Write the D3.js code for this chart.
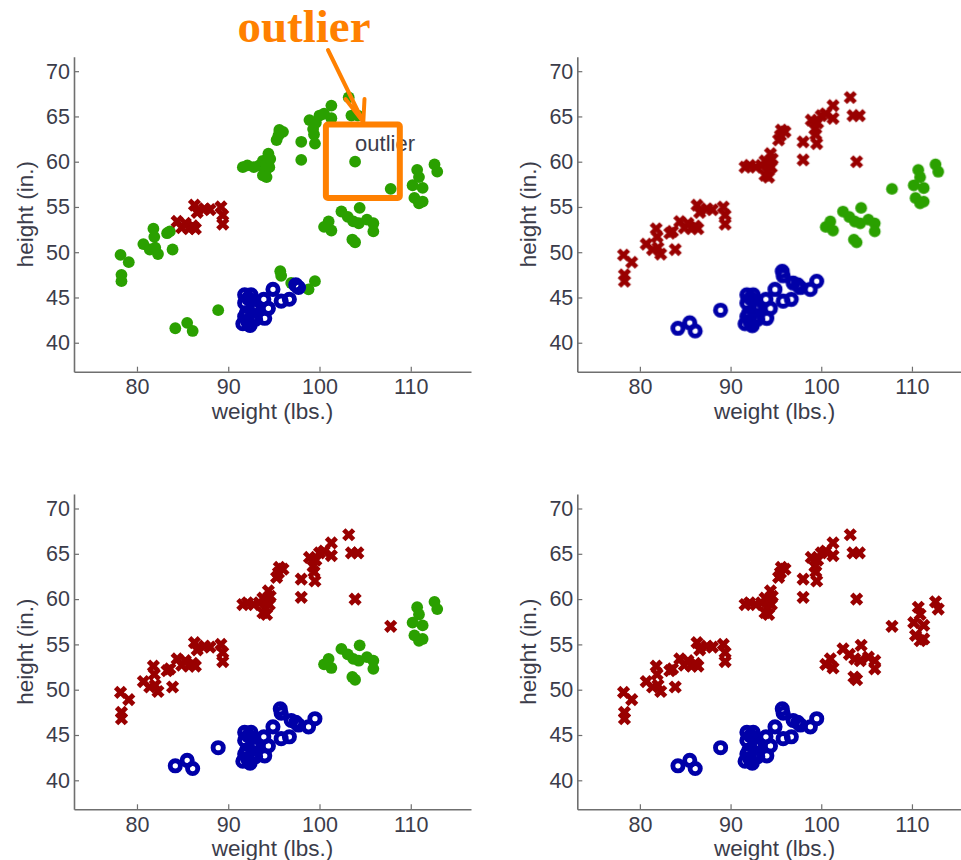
<!DOCTYPE html>
<html>
<head>
<meta charset="utf-8">
<script src="https://cdn.jsdelivr.net/npm/d3@7"></script>
<style>
  body { margin: 0; background: #fff; }
  svg { display: block; }
</style>
</head>
<body>
<svg id="chart" width="961" height="860"></svg>
<script>
// Children's weight / height measurements (lbs., in.)
const weight = [
  // lower-left band
  78.2, 79.1, 78.3, 78.3, 80.7, 81.4, 81.8, 81.9, 82.3, 82.0, 83.3, 83.9, 83.6,
  84.4, 84.9, 85.3, 85.7, 86.1, 86.3, 86.6, 86.4, 87.4, 88.0, 89.2, 89.4, 89.4,
  // middle band
  91.6, 92.1, 92.8, 93.4, 93.8, 93.8, 94.1, 94.2, 94.4, 94.5, 94.6, 94.2, 95.3,
  95.5, 95.6, 96.0, 98.0, 98.0, 98.9, 99.3, 99.6, 99.4, 99.5, 100.0, 100.5, 101.3,
  101.3, 103.2, 103.5, 104.2, 103.9,
  // right, lower group
  100.5, 101.0, 101.3, 102.4, 103.1, 103.7, 104.4, 104.3, 105.2, 105.9, 105.9, 103.6, 103.9,
  // far right group
  107.8, 110.2, 110.7, 110.9, 111.3, 110.4, 110.9, 111.3, 112.6, 112.9,
  // lowest group
  84.2, 85.5, 86.1, 88.9, 91.6, 92.1, 91.8, 92.4, 92.0, 91.8, 91.8, 92.5, 92.2,
  92.9, 92.7, 93.0, 93.9, 94.4, 94.0, 94.9, 95.7, 95.8, 96.7, 96.9, 97.4, 97.7,
  98.8, 99.5, 92.3, 92.6, 93.2, 95.8
];
const height = [
  49.7, 48.9, 47.5, 46.8, 50.9, 50.3, 52.6, 51.7, 49.8, 50.5, 52.1, 50.3, 52.3,
  53.4, 52.7, 53.2, 52.6, 52.9, 55.2, 54.4, 52.6, 54.8, 54.7, 55.0, 54.1, 53.1,
  59.4, 59.6, 59.4, 59.6, 60.1, 58.5, 59.0, 59.7, 60.9, 59.4, 60.3, 58.3, 62.4,
  62.9, 63.5, 63.3, 62.2, 60.2, 64.6, 63.6, 64.3, 63.0, 62.0, 65.1, 65.3, 66.2,
  64.8, 67.1, 65.1, 65.1, 60.0,
  52.8, 53.4, 52.4, 54.5, 53.9, 53.4, 54.9, 53.2, 53.6, 53.2, 52.3, 51.4, 51.1,
  57.0, 57.4, 59.1, 58.3, 57.1, 56.0, 55.4, 55.6, 59.7, 58.9,
  41.6, 42.2, 41.3, 43.6, 42.1, 42.4, 42.9, 41.9, 43.3, 44.4, 45.3, 45.3, 44.9,
  44.1, 43.8, 42.6, 44.8, 43.8, 42.7, 45.9, 47.9, 44.6, 44.8, 46.6, 46.4, 46.1,
  45.9, 46.8, 42.0, 42.5, 43.9, 47.4
];
// Cluster of each point after each of the four k-means steps
// (g = green dot, r = red cross, b = blue ring)
const step1 = "gggggggggggggrrrrrrrrrrrrr" + "ggggggggggggggggggggggggggggggg" + "ggggggggggggg" + "gggggggggg" + "ggggbbbbbbbbbbbbbbbbgbbgbbgg" + "bbbg";
const step2 = "rrrrrrrrrrrrrrrrrrrrrrrrrr" + "rrrrrrrrrrrrrrrrrrrrrrrrrrrrrrr" + "ggggggggggggg" + "gggggggggg" + "bbbbbbbbbbbbbbbbbbbbbbbbbbbb" + "bbbb";
const step3 = "rrrrrrrrrrrrrrrrrrrrrrrrrr" + "rrrrrrrrrrrrrrrrrrrrrrrrrrrrrrr" + "ggggggggggggg" + "rggggggggg" + "bbbbbbbbbbbbbbbbbbbbbbbbbbbb" + "bbbb";
const step4 = "rrrrrrrrrrrrrrrrrrrrrrrrrr" + "rrrrrrrrrrrrrrrrrrrrrrrrrrrrrrr" + "rrrrrrrrrrrrr" + "rrrrrrrrrr" + "bbbbbbbbbbbbbbbbbbbbbbbbbbbb" + "bbbb";
const steps = [step1, step2, step3, step4];

const xTicks = [80, 90, 100, 110];
const yTicks = [40, 45, 50, 55, 60, 65, 70];
const xDomain = [73.1, 116.6];
const yDomain = [36.8, 71.6];
const xTitle = "weight (lbs.)";
const yTitle = "height (in.)";
const outlierIndex = 56;           // the isolated point at (103.9, 60)
const noteTitle = "outlier";
const boxWeight = [100.7, 108.8];  // highlight box around the outlier
const boxHeight = [56.0, 64.1];

const colors = { g: "#2ba000", r: "#990000", b: "#0000a8" };
const orange = "#ff8000";
const inkColor = "#3b3c4a";
const axisColor = "#6f6f6f";

const panels = [
  { left: 74,    top: 56.7, width: 397,   height: 315 },
  { left: 577.3, top: 56.7, width: 394.5, height: 315 },
  { left: 74,    top: 494,  width: 397,   height: 315.3 },
  { left: 577.3, top: 494,  width: 394.5, height: 315.3 }
];

const svg = d3.select("#chart");
svg.append("rect").attr("width", 961).attr("height", 860).attr("fill", "#fff");

const defs = svg.append("defs");
defs.append("filter").attr("id", "soft")
  .attr("x", "-20%").attr("y", "-20%").attr("width", "140%").attr("height", "140%")
  .append("feGaussianBlur").attr("stdDeviation", 0.6);

const points = weight.map((w, i) => ({ w, h: height[i], i }));
const drawOrder = ["g", "r", "b"];

panels.forEach((p, k) => {
  const x = d3.scaleLinear().domain(xDomain).range([0, p.width]);
  const y = d3.scaleLinear().domain(yDomain).range([p.height, 0]);
  const g = svg.append("g").attr("transform", `translate(${p.left},${p.top})`);

  // axes
  const xAxis = g.append("g").attr("transform", `translate(0,${p.height})`)
    .call(d3.axisBottom(x).tickValues(xTicks).tickFormat(d3.format("d"))
      .tickSizeInner(-5).tickSizeOuter(0).tickPadding(7));
  const yAxis = g.append("g")
    .call(d3.axisLeft(y).tickValues(yTicks).tickFormat(d3.format("d"))
      .tickSizeInner(-5).tickSizeOuter(0).tickPadding(4));
  [xAxis, yAxis].forEach(a => {
    a.select(".domain").attr("stroke", axisColor).attr("stroke-width", 1.6);
    a.selectAll(".tick line").attr("stroke", axisColor).attr("stroke-width", 1.2);
    a.selectAll(".tick text")
      .attr("fill", inkColor)
      .style("font-family", "'Liberation Sans', Arial, sans-serif")
      .style("font-size", "21.5px");
  });

  g.append("text")
    .attr("x", p.width / 2).attr("y", p.height + 47)
    .attr("text-anchor", "middle")
    .attr("fill", inkColor)
    .style("font-family", "'Liberation Sans', Arial, sans-serif")
    .style("font-size", "22.5px")
    .text(xTitle);
  g.append("text")
    .attr("transform", `translate(-41,${p.height / 2}) rotate(-90)`)
    .attr("text-anchor", "middle")
    .attr("fill", inkColor)
    .style("font-family", "'Liberation Sans', Arial, sans-serif")
    .style("font-size", "22.5px")
    .text(yTitle);

  // markers
  const marks = g.append("g").attr("filter", "url(#soft)");
  const step = steps[k];
  drawOrder.forEach(c => {
    const pts = points.filter(d => step[d.i] === c);
    if (c === "g") {
      marks.selectAll(null).data(pts).enter().append("circle")
        .attr("cx", d => x(d.w)).attr("cy", d => y(d.h)).attr("r", 5.9)
        .attr("fill", colors.g);
    } else if (c === "r") {
      marks.selectAll(null).data(pts).enter().append("path")
        .attr("transform", d => `translate(${x(d.w)},${y(d.h)})`)
        .attr("d", "M-4.9,-4.9L4.9,4.9M-4.9,4.9L4.9,-4.9")
        .attr("stroke", colors.r).attr("stroke-width", 4.8).attr("fill", "none");
    } else {
      marks.selectAll(null).data(pts).enter().append("circle")
        .attr("cx", d => x(d.w)).attr("cy", d => y(d.h)).attr("r", 5.1)
        .attr("fill", "none").attr("stroke", colors.b).attr("stroke-width", 4.9);
    }
  });

  if (k === 0) {
    // label next to the isolated point
    g.append("text")
      .attr("x", x(weight[outlierIndex])).attr("y", y(height[outlierIndex]) - 11)
      .attr("fill", inkColor)
      .style("font-family", "'Liberation Sans', Arial, sans-serif")
      .style("font-size", "22px")
      .text(noteTitle);
    // highlight box
    g.append("rect")
      .attr("x", x(boxWeight[0])).attr("y", y(boxHeight[1]))
      .attr("width", x(boxWeight[1]) - x(boxWeight[0]))
      .attr("height", y(boxHeight[0]) - y(boxHeight[1]))
      .attr("rx", 2)
      .attr("fill", "none").attr("stroke", orange).attr("stroke-width", 6);
  }
});

// headline annotation with arrow
svg.append("text")
  .attr("x", 304).attr("y", 42)
  .attr("text-anchor", "middle")
  .attr("fill", orange)
  .style("font-family", "'Liberation Serif', 'Times New Roman', serif")
  .style("font-weight", "bold")
  .style("font-size", "47px")
  .text(noteTitle);
svg.append("path")
  .attr("d", "M328,50L362.5,120.5M345.5,99L363.3,122L364.5,99")
  .attr("fill", "none").attr("stroke", orange).attr("stroke-width", 4)
  .attr("stroke-linecap", "round").attr("stroke-linejoin", "round");
</script>
</body>
</html>
